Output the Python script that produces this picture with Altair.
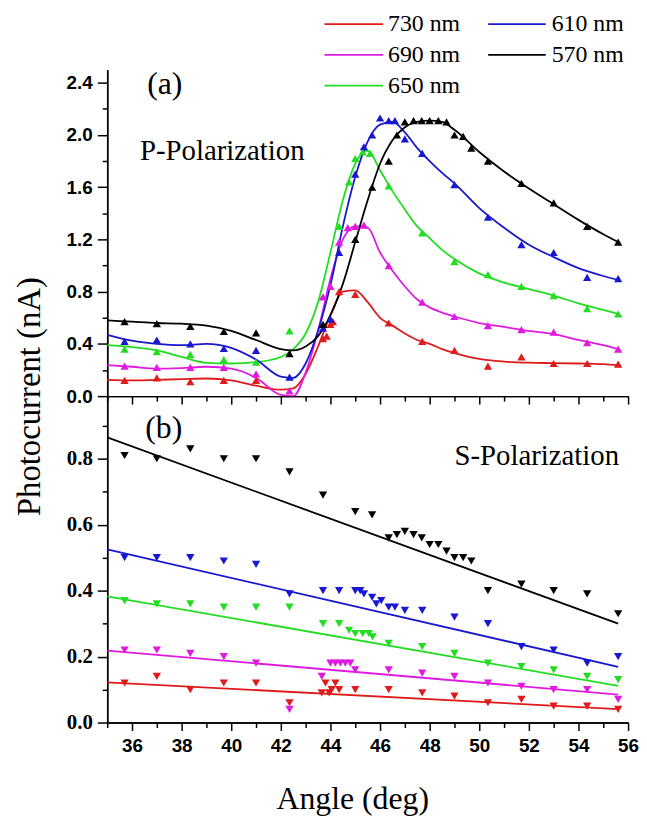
import altair as alt
import pandas as pd

# ---------------- data ----------------
SERIES = ["730 nm", "690 nm", "650 nm", "610 nm", "570 nm"]
COLORS = ["#e01b1b", "#e01be0", "#22dd22", "#1818d0", "#000000"]

# (a) P-polarization: measured points
p_730_x = [35.7, 37.0, 38.35, 39.7, 41.0, 43.7, 43.85, 44.0, 44.1, 44.35, 45.0, 46.35, 47.7, 49.0, 50.35, 51.7, 53.0, 54.35, 55.6]
p_730_y = [0.12, 0.14, 0.11, 0.12, 0.12, 0.44, 0.46, 0.55, 0.57, 0.80, 0.78, 0.56, 0.42, 0.35, 0.23, 0.30, 0.25, 0.25, 0.245]
p_690_x = [35.7, 37.0, 38.35, 39.7, 41.0, 42.35, 43.7, 44.0, 44.35, 44.7, 45.0, 45.35, 46.35, 47.7, 49.0, 50.35, 51.7, 53.0, 54.35, 55.6]
p_690_y = [0.23, 0.22, 0.22, 0.22, 0.17, 0.04, 0.76, 0.84, 1.18, 1.29, 1.30, 1.31, 1.00, 0.72, 0.61, 0.54, 0.51, 0.49, 0.41, 0.36]
p_650_x = [35.7, 37.0, 38.35, 39.7, 41.0, 42.35, 44.35, 44.75, 45.0, 45.3, 45.6, 46.35, 47.7, 49.0, 50.35, 51.7, 53.0, 54.35, 55.6]
p_650_y = [0.36, 0.34, 0.32, 0.28, 0.26, 0.50, 1.30, 1.64, 1.82, 1.87, 1.86, 1.61, 1.25, 1.03, 0.93, 0.84, 0.77, 0.67, 0.63]
p_610_x = [35.7, 37.0, 38.35, 39.7, 41.0, 42.35, 43.7, 44.0, 44.35, 45.0, 45.35, 45.68, 46.0, 46.35, 46.6, 47.0, 47.7, 49.0, 50.35, 51.7, 53.0, 54.35, 55.6]
p_610_y = [0.42, 0.43, 0.40, 0.365, 0.35, 0.145, 0.52, 0.59, 1.10, 1.70, 1.91, 2.00, 2.13, 2.11, 2.11, 1.97, 1.86, 1.62, 1.37, 1.16, 1.10, 0.91, 0.90]
p_570_x = [35.7, 37.0, 38.35, 39.7, 41.0, 42.35, 43.7, 45.0, 45.68, 46.35, 46.68, 47.0, 47.35, 47.68, 48.0, 48.35, 48.68, 49.0, 49.35, 49.68, 50.35, 51.7, 53.0, 54.35, 55.6]
p_570_y = [0.57, 0.555, 0.535, 0.495, 0.485, 0.325, 0.55, 1.20, 1.60, 1.80, 2.00, 2.10, 2.11, 2.11, 2.11, 2.11, 2.10, 2.00, 1.99, 1.90, 1.80, 1.63, 1.48, 1.30, 1.18]

# (a) fitted curves, read at these angles
fit_x = [35, 36, 37, 38, 39, 40, 41, 42, 42.5, 43, 43.5, 44, 44.5, 45, 45.5, 46, 46.5, 47, 47.5, 48, 48.5, 49, 50, 51, 52, 53, 54, 55, 55.6]
fit_730 = [0.124, 0.12, 0.125, 0.13, 0.135, 0.12, 0.08, 0.05, 0.06, 0.17, 0.38, 0.62, 0.80, 0.81, 0.72, 0.60, 0.54, 0.48, 0.43, 0.40, 0.36, 0.33, 0.285, 0.265, 0.256, 0.253, 0.25, 0.245, 0.235]
fit_690 = [0.238, 0.225, 0.21, 0.215, 0.225, 0.21, 0.14, 0.01, 0.0, 0.18, 0.50, 0.90, 1.20, 1.30, 1.29, 1.10, 0.96, 0.84, 0.74, 0.68, 0.64, 0.61, 0.56, 0.53, 0.50, 0.475, 0.43, 0.39, 0.36]
fit_650 = [0.39, 0.375, 0.35, 0.30, 0.255, 0.25, 0.26, 0.30, 0.36, 0.48, 0.72, 1.10, 1.50, 1.78, 1.88, 1.73, 1.57, 1.43, 1.30, 1.21, 1.12, 1.05, 0.94, 0.87, 0.82, 0.77, 0.71, 0.66, 0.63]
fit_610 = [0.47, 0.425, 0.40, 0.39, 0.40, 0.37, 0.28, 0.15, 0.14, 0.25, 0.50, 0.85, 1.30, 1.68, 1.95, 2.08, 2.10, 2.02, 1.90, 1.80, 1.71, 1.63, 1.44, 1.29, 1.16, 1.065, 0.98, 0.92, 0.89]
fit_570 = [0.58, 0.57, 0.56, 0.555, 0.54, 0.50, 0.43, 0.36, 0.35, 0.38, 0.46, 0.62, 0.86, 1.18, 1.50, 1.78, 1.96, 2.06, 2.10, 2.11, 2.10, 2.04, 1.87, 1.72, 1.59, 1.47, 1.35, 1.24, 1.18]

# (b) S-polarization: measured points
s_730_x = [35.7, 37.0, 38.35, 39.7, 41.0, 42.35, 43.65, 43.8, 43.95, 44.05, 44.2, 44.35, 45.0, 46.35, 47.7, 49.0, 50.35, 51.7, 53.0, 54.35, 55.6]
s_730_y = [0.12, 0.14, 0.10, 0.12, 0.12, 0.06, 0.09, 0.12, 0.09, 0.10, 0.12, 0.10, 0.10, 0.10, 0.09, 0.08, 0.06, 0.07, 0.05, 0.05, 0.04]
s_690_x = [35.7, 37.0, 38.35, 39.7, 41.0, 42.35, 43.65, 44.0, 44.2, 44.4, 44.6, 44.8, 45.0, 46.35, 47.7, 49.0, 50.35, 51.7, 53.0, 54.35, 55.6]
s_690_y = [0.22, 0.22, 0.21, 0.20, 0.18, 0.04, 0.14, 0.18, 0.18, 0.18, 0.18, 0.18, 0.16, 0.16, 0.15, 0.14, 0.12, 0.11, 0.10, 0.10, 0.07]
s_650_x = [35.7, 37.0, 38.35, 39.7, 41.0, 42.35, 43.7, 44.35, 44.75, 45.0, 45.3, 45.55, 45.7, 46.35, 47.7, 49.0, 50.35, 51.7, 53.0, 54.35, 55.6]
s_650_y = [0.37, 0.36, 0.36, 0.35, 0.35, 0.35, 0.30, 0.30, 0.28, 0.27, 0.27, 0.27, 0.26, 0.24, 0.23, 0.21, 0.18, 0.17, 0.16, 0.14, 0.13]
s_610_x = [35.7, 37.0, 38.35, 39.7, 41.0, 42.35, 43.7, 44.35, 45.0, 45.2, 45.35, 45.68, 45.85, 46.05, 46.35, 46.6, 47.0, 47.7, 49.0, 50.35, 51.7, 53.0, 54.35, 55.6]
s_610_y = [0.50, 0.50, 0.50, 0.49, 0.48, 0.39, 0.40, 0.40, 0.40, 0.40, 0.39, 0.38, 0.36, 0.37, 0.35, 0.35, 0.34, 0.34, 0.32, 0.30, 0.23, 0.22, 0.18, 0.20]
s_570_x = [35.7, 37.0, 38.35, 39.7, 41.0, 42.35, 43.7, 45.0, 45.68, 46.35, 46.68, 47.0, 47.35, 47.68, 48.0, 48.35, 48.68, 49.0, 49.35, 49.68, 50.35, 51.7, 53.0, 54.35, 55.6]
s_570_y = [0.81, 0.80, 0.83, 0.80, 0.80, 0.76, 0.69, 0.64, 0.63, 0.56, 0.57, 0.58, 0.57, 0.56, 0.54, 0.54, 0.52, 0.50, 0.50, 0.49, 0.40, 0.42, 0.40, 0.39, 0.33]

# (b) linear fits: value at the two ends
s_fit_x = [35, 55.6]
s_fit_730 = [0.122, 0.041]
s_fit_690 = [0.218, 0.085]
s_fit_650 = [0.383, 0.111]
s_fit_610 = [0.525, 0.169]
s_fit_570 = [0.865, 0.300]

x_major = list(range(36, 57, 2))
x_minor = list(range(35, 57, 2))
p_major = [round(i * 0.4, 1) for i in range(7)]
p_minor = [round(0.2 + i * 0.4, 1) for i in range(6)]
s_major = [round(i * 0.2, 1) for i in range(5)]
s_minor = [round(0.1 + i * 0.2, 1) for i in range(5)]


def long(pairs):
    rows = []
    for name, xs, ys in pairs:
        for a, v in zip(xs, ys):
            rows.append({"angle": a, "v": v, "wl": name})
    return pd.DataFrame(rows)


p_pts = long([("730 nm", p_730_x, p_730_y), ("690 nm", p_690_x, p_690_y), ("650 nm", p_650_x, p_650_y),
              ("610 nm", p_610_x, p_610_y), ("570 nm", p_570_x, p_570_y)])
p_fit = long([(n, fit_x, f) for n, f in zip(SERIES, [fit_730, fit_690, fit_650, fit_610, fit_570])])
s_pts = long([("730 nm", s_730_x, s_730_y), ("690 nm", s_690_x, s_690_y), ("650 nm", s_650_x, s_650_y),
              ("610 nm", s_610_x, s_610_y), ("570 nm", s_570_x, s_570_y)])
s_fit = long([(n, s_fit_x, f) for n, f in zip(SERIES, [s_fit_730, s_fit_690, s_fit_650, s_fit_610, s_fit_570])])

# ---------------- styling ----------------
W, H = 525, 329
SERIF = "Liberation Serif"
SANS = "Liberation Sans"

cscale = alt.Scale(domain=SERIES, range=COLORS)
xscale = alt.Scale(domain=[35, 56], nice=False, zero=False)
p_yscale = alt.Scale(domain=[0, 2.5], nice=False)
s_yscale = alt.Scale(domain=[0, 0.99], nice=False)

base_ax = dict(grid=False, domainColor="black", tickColor="black", domainWidth=1.5, tickWidth=1.5,
               labelOverlap=False, labelFlush=False, labelColor="black")


def minor_axis(vals, orient):
    return alt.Axis(values=vals, labels=False, title=None, tickSize=5, orient=orient, **base_ax)


x_axis_top = alt.Axis(values=x_major, labels=False, title=None, tickSize=8, orient="bottom", **base_ax)
x_axis_bot = alt.Axis(values=x_major, format="d", labelFont=SANS, labelFontWeight="bold", labelFontSize=19,
                      labelPadding=6, tickSize=8, orient="bottom",
                      title="Angle (deg)", titleFont=SERIF, titleFontSize=32, titleFontWeight="normal",
                      titleColor="black", titleX=247, titleY=77, titleAlign="center", titleBaseline="middle",
                      **base_ax)
y_axis_top = alt.Axis(values=p_major, format=".1f", labelFont=SANS, labelFontWeight="bold", labelFontSize=19,
                      labelPadding=5, tickSize=10, orient="left",
                      title="Photocurrent (nA)", titleFont=SERIF, titleFontSize=33, titleFontWeight="normal",
                      titleColor="black", titleX=-78, titleY=H, titleAngle=270, titleAlign="center",
                      titleBaseline="middle", **base_ax)
y_axis_bot = alt.Axis(values=s_major, format=".1f", labelFont=SERIF, labelFontWeight="bold", labelFontSize=21,
                      labelPadding=5, tickSize=10, orient="left", title=None, **base_ax)

one = alt.Data(values=[{"k": 1}])


def label(txt, x, y, size, align="center"):
    return alt.Chart(one).mark_text(font=SERIF, fontSize=size, color="black", align=align,
                                    baseline="middle").encode(x=alt.value(x), y=alt.value(y),
                                                              text=alt.value(txt))


def panel(fit_df, pts_df, yscale, xaxis, yaxis, y_minor_vals, shape, interp):
    lines = alt.Chart(fit_df).mark_line(strokeWidth=1.8, interpolate=interp, clip=True).encode(
        x=alt.X("angle:Q", scale=xscale, axis=xaxis),
        y=alt.Y("v:Q", scale=yscale, axis=yaxis),
        color=alt.Color("wl:N", scale=cscale, legend=None),
    )
    marks = alt.Chart(pts_df).mark_point(shape=shape, filled=True, size=70, opacity=1).encode(
        x=alt.X("angle:Q", scale=xscale, axis=minor_axis(x_minor, "bottom")),
        y=alt.Y("v:Q", scale=yscale, axis=minor_axis(y_minor_vals, "left")),
        color=alt.Color("wl:N", scale=cscale, legend=None),
    )
    return lines, marks


# ---------------- panel (a) ----------------
p_lines, p_marks = panel(p_fit, p_pts, p_yscale, x_axis_top, y_axis_top, p_minor, "triangle-up", "monotone")

legend_layers = []
legend_pos = {  # line start, line end, text start, row y (relative to panel a)
    "730 nm": (219, 278, 283, -46), "610 nm": (384, 442, 448, -46),
    "690 nm": (219, 278, 283, -15), "570 nm": (384, 442, 448, -15),
    "650 nm": (219, 278, 283, 16),
}
for name, col in zip(SERIES, COLORS):
    x1, x2, xt, yy = legend_pos[name]
    legend_layers.append(alt.Chart(one).mark_rule(color=col, strokeWidth=1.8).encode(
        x=alt.value(x1), x2=alt.value(x2), y=alt.value(yy)))
    legend_layers.append(label(name, xt, yy, 24, align="left"))

panel_a = alt.layer(
    p_lines, p_marks,
    label("(a)", 58, 14, 32),
    label("P-Polarization", 116, 82, 29),
    *legend_layers,
).resolve_axis(x="independent", y="independent").properties(width=W, height=H)

# ---------------- panel (b) ----------------
s_lines, s_marks = panel(s_fit, s_pts, s_yscale, x_axis_bot, y_axis_bot, s_minor, "triangle-down", "linear")
panel_b = alt.layer(
    s_lines, s_marks,
    label("(b)", 57, 32, 32),
    label("S-Polarization", 433, 60, 29),
).resolve_axis(x="independent", y="independent").properties(width=W, height=H)

chart = alt.vconcat(panel_a, panel_b, spacing=0, bounds="flush").properties(
    padding={"left": 6, "top": 1, "right": 0, "bottom": 0},
    background="white",
).configure_view(strokeWidth=0)

chart.save("out.html", embed_options={"renderer": "svg", "actions": False})
